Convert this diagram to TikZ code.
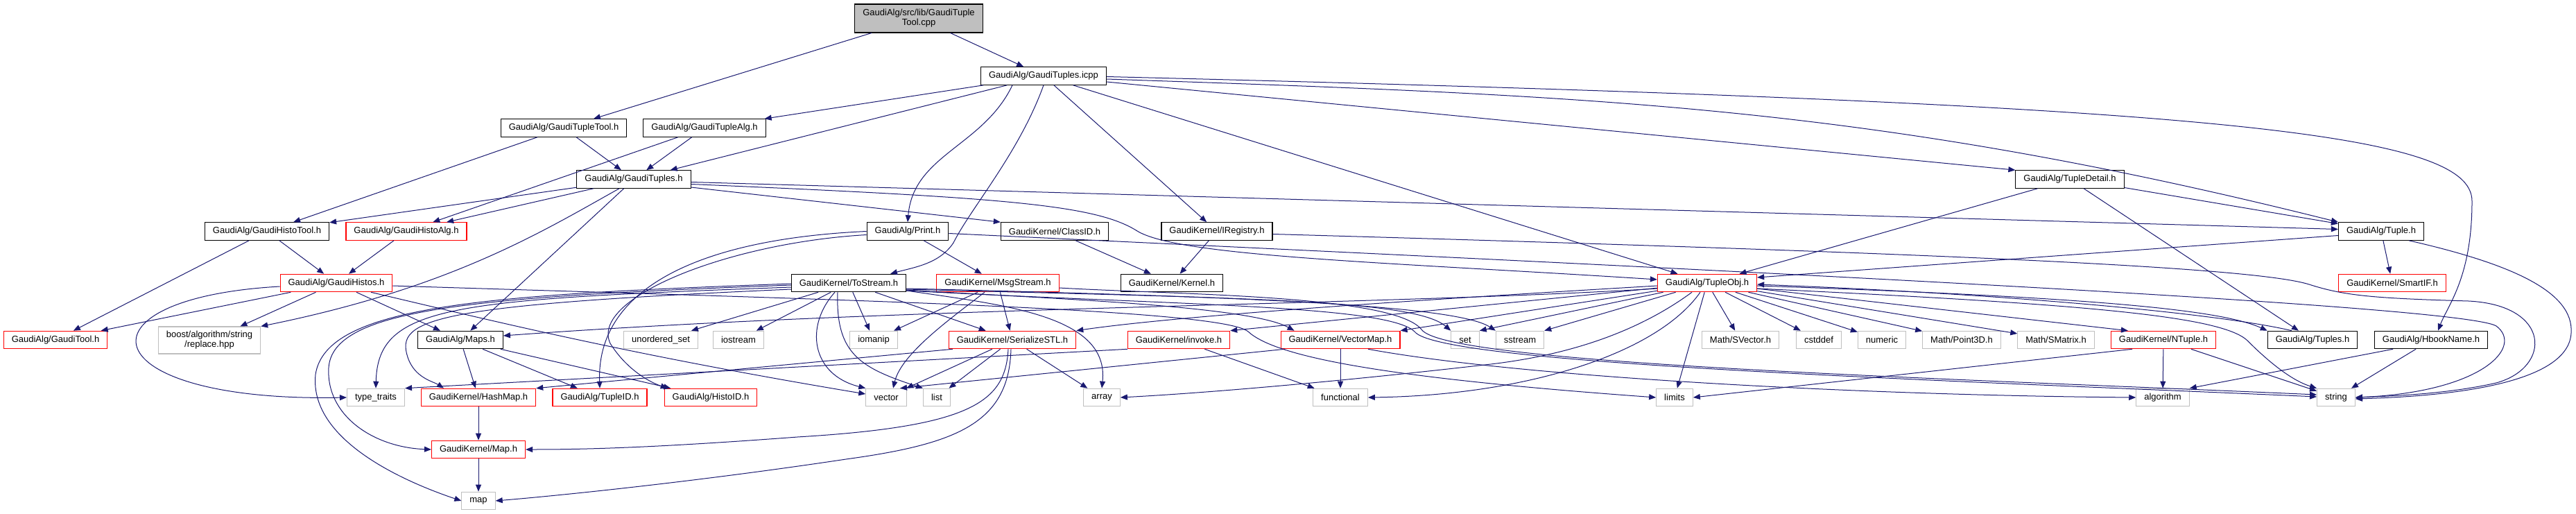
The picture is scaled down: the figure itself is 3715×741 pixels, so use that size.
\documentclass[tikz,border=0pt]{standalone}
\usepackage{fontspec}
\setmainfont{Liberation Sans}
\usetikzlibrary{arrows.meta}

\definecolor{incblue}{HTML}{191970}
\definecolor{docred}{HTML}{FF0000}
\definecolor{docgray}{HTML}{BFBFBF}

\tikzset{
  hdr/.style={draw=black, line width=1.1pt, fill=white, inner xsep=11.5pt, inner ysep=2pt,
    minimum height=25.5pt, font=\fontsize{13}{14}\selectfont},
  hdrred/.style={hdr, draw=docred},
  hdrsys/.style={hdr, draw=docgray},
  inc/.style={draw=incblue, line width=1pt, -{Triangle[length=10pt,width=8pt]}},
}

\begin{document}
\begin{tikzpicture}[x=1pt,y=-1pt]
  \useasboundingbox (0,0) rectangle (3715,741);

  % files
  \node[hdr, fill=docgray, align=center, minimum height=41pt] (root) at (1325,26.5) {GaudiAlg/src/lib/GaudiTuple\\Tool.cpp};
  \node[hdr] (icpp) at (1505,109.5) {GaudiAlg/GaudiTuples.icpp};
  \node[hdr] (tupletool) at (813,184.5) {GaudiAlg/GaudiTupleTool.h};
  \node[hdr] (tuplealg) at (1016,184.5) {GaudiAlg/GaudiTupleAlg.h};
  \node[hdr] (tuples) at (914,258.5) {GaudiAlg/GaudiTuples.h};
  \node[hdr] (detail) at (2985,258.5) {GaudiAlg/TupleDetail.h};
  \node[hdr] (histotool) at (385,333.5) {GaudiAlg/GaudiHistoTool.h};
  \node[hdrred] (histoalg) at (586,333.5) {GaudiAlg/GaudiHistoAlg.h};
  \node[hdr] (print) at (1309,333.5) {GaudiAlg/Print.h};
  \node[hdr] (classid) at (1521,333.5) {GaudiKernel/ClassID.h};
  \node[hdr] (iregistry) at (1755,333.5) {GaudiKernel/IRegistry.h};
  \node[hdr] (tuple) at (3434,333.5) {GaudiAlg/Tuple.h};
  \node[hdrred] (histos) at (485,408) {GaudiAlg/GaudiHistos.h};
  \node[hdr] (tostream) at (1224,408) {GaudiKernel/ToStream.h};
  \node[hdrred] (msgstream) at (1439,408) {GaudiKernel/MsgStream.h};
  \node[hdr] (kernel) at (1690,408) {GaudiKernel/Kernel.h};
  \node[hdrred] (tupleobj) at (2462,408) {GaudiAlg/TupleObj.h};
  \node[hdrred] (smartif) at (3450,408) {GaudiKernel/SmartIF.h};
  \node[hdrred] (gauditool) at (80,490) {GaudiAlg/GaudiTool.h};
  \node[hdrsys, align=center, minimum height=39pt] (boost) at (302,490.5) {boost/algorithm/string\\/replace.hpp};
  \node[hdr] (maps) at (664,490) {GaudiAlg/Maps.h};
  \node[hdrsys] (uset) at (953,490) {unordered\_set};
  \node[hdrsys] (iostream) at (1065,490) {iostream};
  \node[hdrsys] (iomanip) at (1260,490) {iomanip};
  \node[hdrred] (serial) at (1460,490) {GaudiKernel/SerializeSTL.h};
  \node[hdrred] (invoke) at (1700,490) {GaudiKernel/invoke.h};
  \node[hdrred] (vecmap) at (1933,490) {GaudiKernel/VectorMap.h};
  \node[hdrsys] (stdset) at (2113,490) {set};
  \node[hdrsys] (sstream) at (2192,490) {sstream};
  \node[hdrsys] (svector) at (2510,490) {Math/SVector.h};
  \node[hdrsys] (cstddef) at (2623,490) {cstddef};
  \node[hdrsys] (numeric) at (2714,490) {numeric};
  \node[hdrsys] (point) at (2829,490) {Math/Point3D.h};
  \node[hdrsys] (smatrix) at (2965,490) {Math/SMatrix.h};
  \node[hdrred] (ntuple) at (3120,490) {GaudiKernel/NTuple.h};
  \node[hdr] (tuplesh) at (3335,490) {GaudiAlg/Tuples.h};
  \node[hdr] (hbook) at (3506,490) {GaudiAlg/HbookName.h};
  \node[hdrsys] (traits) at (542,573) {type\_traits};
  \node[hdrred] (hashmap) at (690,573) {GaudiKernel/HashMap.h};
  \node[hdrred] (tupleid) at (865,573) {GaudiAlg/TupleID.h};
  \node[hdrred] (histoid) at (1025,573) {GaudiAlg/HistoID.h};
  \node[hdrsys] (vector) at (1278,573) {vector};
  \node[hdrsys] (list) at (1351,573) {list};
  \node[hdrsys] (array) at (1589,573) {array};
  \node[hdrsys] (functional) at (1933,573) {functional};
  \node[hdrsys] (limits) at (2415,573) {limits};
  \node[hdrsys] (algorithm) at (3119,573) {algorithm};
  \node[hdrsys] (string) at (3369,573) {string};
  \node[hdrred] (gkmap) at (690,648) {GaudiKernel/Map.h};
  \node[hdrsys] (map) at (690,722) {map};

  % includes
  \draw[inc] (root) -- (tupletool);
  \draw[inc] (root) -- (icpp);
  \draw[inc] (tupletool) -- (histotool);
  \draw[inc] (tupletool) -- (tuples);
  \draw[inc] (tuplealg) -- (histoalg);
  \draw[inc] (tuplealg) -- (tuples);

  \draw[inc] (icpp) -- (tuplealg);
  \draw[inc] (icpp) -- (tuples);
  \draw[inc] ([xshift=-45pt]icpp.south) .. controls (1418,211) and (1317,223) .. (print.north);
  \draw[inc] (icpp.south) .. controls (1470,220) and (1400,300) .. (1375,350) .. controls (1355,380) and (1320,385) .. ([xshift=60pt]tostream.north);
  \draw[inc] (icpp) -- (iregistry);
  \draw[inc] (icpp) -- (tupleobj);
  \draw[inc] ([yshift=-8.5pt]icpp.east) -- (detail.north west);
  \draw[inc] ([yshift=-4.5pt]icpp.east) .. controls (2298,138) and (2696,151) .. (tuple.north west);
  \draw[inc] ([yshift=-1pt]icpp.east) .. controls (3200,150) and (3565,190) .. (3565,290) .. controls (3565,400) and (3530,440) .. ([xshift=10pt]hbook.north);

  \draw[inc] (tuples) -- (histotool);
  \draw[inc] (tuples) -- (histoalg);
  \draw[inc] (tuples) -- (maps);
  \draw[inc] ([xshift=-21pt]tuples.south) .. controls (780,335) and (650,415) .. (boost.north east);
  \draw[inc] ([yshift=-4pt]tuples.east) -- ([yshift=3pt]tuple.west);
  \draw[inc] ([yshift=-11.5pt]tuples.east) -- (classid.north west);
  \draw[inc] ([yshift=-7pt]tuples.east) .. controls (1450,285) and (1580,295) .. (1640,333) .. controls (1700,370) and (2000,378) .. ([yshift=5pt]tupleobj.west);

  \draw[inc] (detail) -- (tupleobj);
  \draw[inc] (detail) -- (tuplesh);
  \draw[inc] ([yshift=-12pt]detail.east) -- ([yshift=11pt]tuple.west);

  \draw[inc] (histotool) -- (gauditool);
  \draw[inc] (histotool) -- (histos);
  \draw[inc] (histoalg) -- (histos);

  \draw[inc] (print) -- (msgstream);
  \draw[inc] (print.west) .. controls (1000,345) and (860,420) .. (tupleid.north);
  \draw[inc] ([yshift=-5pt]print.west) .. controls (1050,350) and (850,430) .. (880,495) .. controls (905,535) and (940,552) .. ([xshift=5pt]histoid.north west);
  \draw[inc] ([yshift=-3pt]print.east) .. controls (2500,390) and (3550,440) .. (3600,470) .. controls (3640,500) and (3580,565) .. (string.east);

  \draw[inc] (classid) -- (kernel);
  \draw[inc] (iregistry) -- (kernel);
  \draw[inc] ([yshift=-4pt]iregistry.east) .. controls (2800,365) and (3250,385) .. (3330,410) .. controls (3380,426) and (3420,430) .. (3560,434) .. controls (3680,440) and (3680,530) .. (3600,552) .. controls (3530,568) and (3450,571) .. (string.east);

  \draw[inc] ([yshift=-6pt]tuple.west) -- ([yshift=8pt]tupleobj.east);
  \draw[inc] (tuple) -- (smartif);
  \draw[inc] ([xshift=40pt]tuple.south) .. controls (3620,380) and (3712,420) .. (3708,480) .. controls (3704,560) and (3500,572) .. ([yshift=-2pt]string.east);

  \draw[inc] (histos) -- (gauditool);
  \draw[inc] (histos) -- (boost);
  \draw[inc] (histos) -- (maps);
  \draw[inc] ([yshift=-5pt]histos.west) .. controls (100,430) and (130,580) .. (traits.west);
  \draw[inc] ([xshift=50pt]histos.south) .. controls (700,460) and (900,510) .. ([yshift=5pt]vector.west);
  \draw[inc] ([yshift=-4pt]histos.east) .. controls (1200,432) and (1760,445) .. (1800,478) .. controls (1840,515) and (2000,545) .. (limits.west);

  \draw[inc] (tostream) -- (uset);
  \draw[inc] (tostream) -- (iostream);
  \draw[inc] (tostream) -- (iomanip);
  \draw[inc] (tostream) -- (serial);
  \draw[inc] ([xshift=-20pt]tostream.south) .. controls (1160,470) and (1170,540) .. (vector.north west);
  \draw[inc] ([xshift=-16pt]tostream.south) .. controls (1205,510) and (1240,530) .. (list.north west);
  \draw[inc] ([yshift=-11pt]tostream.east) .. controls (1450,440) and (1600,455) .. (array.north);
  \draw[inc] ([yshift=-10pt]tostream.east) .. controls (1500,430) and (1800,440) .. ([xshift=20pt]vecmap.north west);
  \draw[inc] ([yshift=-9pt]tostream.east) .. controls (1800,430) and (2040,432) .. (stdset.north west);
  \draw[inc] ([yshift=-8pt]tostream.east) .. controls (1800,428) and (2100,440) .. (sstream.north west);
  \draw[inc] ([yshift=-11pt]tostream.east) .. controls (1700,440) and (2000,440) .. (2040,478) .. controls (2075,525) and (2800,548) .. ([yshift=1pt]string.west);
  \draw[inc] ([yshift=-1pt]tostream.west) .. controls (700,425) and (470,440) .. (455,540) .. controls (445,640) and (600,700) .. (map.west);
  \draw[inc] ([yshift=-3pt]tostream.west) .. controls (680,428) and (480,445) .. (474,530) .. controls (470,600) and (540,645) .. (gkmap.west);
  \draw[inc] ([yshift=-6pt]tostream.west) .. controls (650,432) and (545,440) .. (traits.north);
  \draw[inc] ([yshift=-9pt]tostream.west) .. controls (620,440) and (570,460) .. (588,515) .. controls (598,545) and (625,550) .. ([xshift=-50pt]hashmap.north);

  \draw[inc] (msgstream) -- (iomanip);
  \draw[inc] (msgstream) -- (serial);
  \draw[inc] ([xshift=-19pt]msgstream.south) .. controls (1370,460) and (1300,510) .. ([xshift=10pt]vector.north);
  \draw[inc] ([yshift=-7pt]msgstream.east) .. controls (1700,425) and (2010,425) .. (2050,475) .. controls (2085,525) and (2800,545) .. ([yshift=4pt]string.west);

  \draw[inc] (serial) -- (vector);
  \draw[inc] (serial) -- (list);
  \draw[inc] (serial) -- (array);
  \draw[inc] ([xshift=6pt]serial.south west) -- (hashmap.north east);
  \draw[inc] ([xshift=-6pt]serial.south) .. controls (1450,580) and (1400,615) .. (1150,630) .. controls (950,645) and (850,648) .. (gkmap.east);
  \draw[inc] ([xshift=-2pt]serial.south) .. controls (1455,610) and (1380,640) .. (1220,662) .. controls (1000,695) and (800,715) .. (map.east);

  \draw[inc] (invoke) -- (functional);
  \draw[inc] (invoke.south west) -- (traits.north east);
  \draw[inc] (vecmap) -- (functional);
  \draw[inc] ([xshift=40pt]vecmap.south) .. controls (2200,545) and (2700,570) .. (algorithm.west);
  \draw[inc] ([xshift=-80pt]vecmap.south) -- ([xshift=20pt]vector.north);

  \draw[inc] ([yshift=-8pt]tupleobj.west) .. controls (2000,440) and (1300,442) .. ([yshift=6pt]maps.east);
  \draw[inc] ([yshift=-4pt]tupleobj.west) .. controls (2050,432) and (1700,455) .. (serial.north east);
  \draw[inc] (tupleobj) -- (invoke.north east);
  \draw[inc] (tupleobj) -- (vecmap.north east);
  \draw[inc] (tupleobj) -- (stdset.north east);
  \draw[inc] (tupleobj) -- (sstream.north east);
  \draw[inc] ([xshift=-22pt]tupleobj.south) .. controls (2360,480) and (2260,512) .. (2150,525) .. controls (1950,548) and (1750,566) .. (array.east);
  \draw[inc] ([xshift=-10pt]tupleobj.south) .. controls (2390,510) and (2200,570) .. (functional.east);
  \draw[inc] (tupleobj) -- (limits);
  \draw[inc] (tupleobj) -- (svector);
  \draw[inc] (tupleobj) -- (cstddef);
  \draw[inc] (tupleobj) -- (numeric);
  \draw[inc] (tupleobj) -- (point);
  \draw[inc] (tupleobj) -- (smatrix);
  \draw[inc] (tupleobj) -- ([xshift=25pt]ntuple.north west);
  \draw[inc] ([yshift=-4pt]tupleobj.east) .. controls (3000,428) and (3200,445) .. (tuplesh.north west);
  \draw[inc] ([yshift=-8pt]tupleobj.east) .. controls (3000,438) and (3200,455) .. (3240,490) .. controls (3280,530) and (3310,550) .. (string.north west);
  \draw[inc] ([xshift=-30pt]tuplesh.north) .. controls (3200,452) and (2900,424) .. ([yshift=-2pt]tupleobj.east);

  \draw[inc] (ntuple) -- (algorithm);
  \draw[inc] (ntuple) -- (string);
  \draw[inc] ([xshift=-45pt]ntuple.south) -- (limits.east);
  \draw[inc] ([xshift=-55pt]hbook.south) -- (algorithm.north east);
  \draw[inc] (hbook) -- (string);

  \draw[inc] (maps) -- (hashmap);
  \draw[inc] (maps) -- (tupleid);
  \draw[inc] (maps) -- (histoid);
  \draw[inc] (hashmap) -- (gkmap);
  \draw[inc] (gkmap) -- (map);
\end{tikzpicture}
\end{document}
